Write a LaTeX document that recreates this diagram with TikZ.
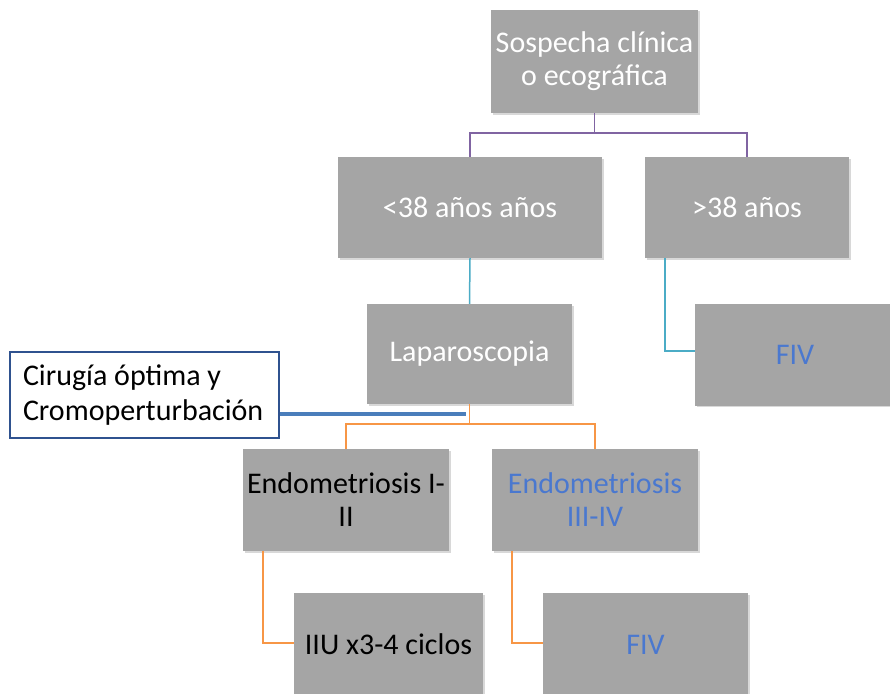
\documentclass[tikz,border=0pt]{standalone}
\usepackage{fontspec}
\setmainfont{Carlito}
\usetikzlibrary{shadows}
\definecolor{boxgray}{HTML}{A5A5A5}
\definecolor{purp}{HTML}{8064A2}
\definecolor{cyanl}{HTML}{4BACC6}
\definecolor{orangel}{HTML}{F79646}
\definecolor{bluet}{HTML}{4A78CF}
\definecolor{blueline}{HTML}{4A7EBB}
\definecolor{bluebord}{HTML}{2F528F}
\tikzset{
  graybox/.style={fill=boxgray, inner sep=0pt, align=center,
    font=\fontsize{30}{33}\selectfont,
    drop shadow={shadow xshift=1.5pt, shadow yshift=-1.5pt, opacity=.3}},
  purpline/.style={draw=purp, line width=1.5pt},
  cyanline/.style={draw=cyanl, line width=1.5pt},
  orline/.style={draw=orangel, line width=1.5pt},
}
\begin{document}
\begin{tikzpicture}[x=1pt,y=-1pt]
\useasboundingbox (0,0) rectangle (890,693);
\fill[white] (0,0) rectangle (890,693);

% boxes
\node[graybox, text=white, minimum width=207pt, minimum height=103pt] (top) at (594.5,61.5)
  {Sospecha clínica\\o ecográfica};
\node[graybox, text=white, minimum width=264pt, minimum height=101pt] (lt) at (470,207.5)
  {<38 años años};
\node[graybox, text=white, minimum width=204pt, minimum height=101pt] (gt) at (747,207.5)
  {>38 años};
\node[graybox, text=white, minimum width=205pt, minimum height=100pt] (lap) at (469.5,354)
  {Laparoscopia};
\node[graybox, text=bluet, minimum width=200pt, minimum height=102pt] (fivr) at (795,354.5)
  {FIV};
\node[graybox, text=black, minimum width=206pt, minimum height=102pt] (ea) at (346,500)
  {Endometriosis I-\\II};
\node[graybox, text=bluet, minimum width=206pt, minimum height=102pt] (eb) at (595,500)
  {Endometriosis\\III-IV};
\node[graybox, text=black, minimum width=189pt, minimum height=103pt] (iiu) at (388.5,644.5)
  {IIU x3-4 ciclos};
\node[graybox, text=bluet, minimum width=205pt, minimum height=103pt] (fivb) at (645.5,644.5)
  {FIV};

% white box
\node[draw=bluebord, line width=1.3pt, fill=white, minimum width=269pt, minimum height=86pt,
      inner xsep=13pt, inner ysep=0pt, text width=243pt, align=flush left,
      font=\fontsize{30}{35}\selectfont] (cir) at (144.5,395) {Cirugía óptima y\\Cromoperturbación};

% connectors
\coordinate (j1) at (594.5,133);
\draw[purpline] (top.south) -- (j1) -| (lt.north);
\draw[purpline] (j1) -| (gt.north);
\draw[cyanline] (lt.south) -- (lap.north);
\draw[cyanline] ([xshift=20pt]gt.south west) |- ([yshift=3.5pt]fivr.west);
\coordinate (j2) at (469.5,424);
\draw[orline] (lap.south) -- (j2) -| (ea.north);
\draw[orline] (j2) -| (eb.north);
\draw[orline] ([xshift=20pt]ea.south west) |- ([yshift=1.5pt]iiu.west);
\draw[orline] ([xshift=20pt]eb.south west) |- ([yshift=1.5pt]fivb.west);
\coordinate (bl) at (466,414);
\draw[draw=blueline, line width=3.3pt] ([yshift=-19pt]cir.east) -- (bl);
\end{tikzpicture}
\end{document}
